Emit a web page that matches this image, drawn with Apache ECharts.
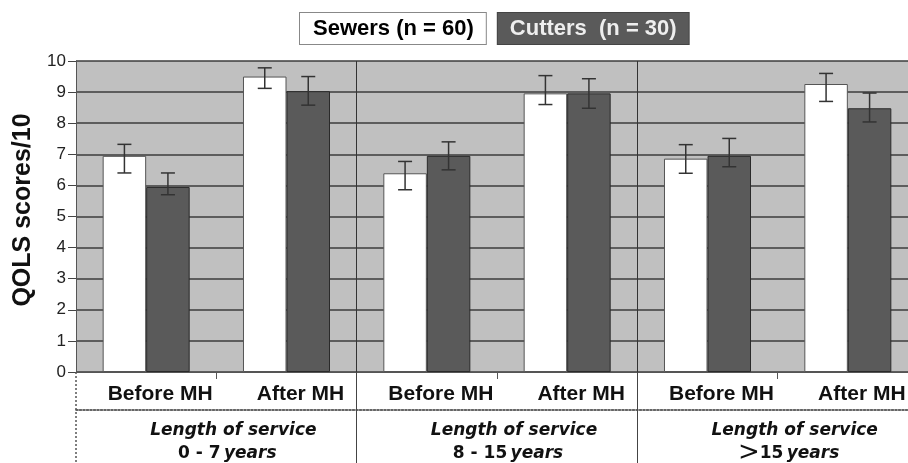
<!DOCTYPE html>
<html>
<head>
<meta charset="utf-8">
<script src="https://cdn.jsdelivr.net/npm/echarts@6/dist/echarts.min.js"></script>
<style>
html,body{margin:0;padding:0;background:#fff;}
#chart{width:908px;height:463px;}
</style>
</head>
<body>
<div id="chart"></div>
<script>
// ---- data ----
const categories = ['Before MH', 'After MH', 'Before MH', 'After MH', 'Before MH', 'After MH'];
const groups = ['0 - 7', '8 - 15', '>15'];
const seriesNames = ['Sewers (n = 60)', 'Cutters  (n = 30)'];
const sewersMean = [6.95, 9.5, 6.39, 8.96, 6.86, 9.26];
const sewersLow  = [6.40, 9.12, 5.86, 8.60, 6.39, 8.70];
const sewersHigh = [7.32, 9.78, 6.77, 9.53, 7.31, 9.60];
const cuttersMean = [5.95, 9.03, 6.95, 8.96, 6.95, 8.48];
const cuttersLow  = [5.70, 8.58, 6.50, 8.48, 6.60, 8.04];
const cuttersHigh = [6.40, 9.50, 7.40, 9.43, 7.51, 8.97];
const yTicks = [0, 10, 1];

const FONT = '"Liberation Sans", Arial, sans-serif';
const GAP = 0.38;

function errRender(sign) {
  return function (params, api) {
    const band = api.size([1, 0])[0];
    const bw = band * (1 - GAP) / 2;
    const x = api.coord([api.value(0), 0])[0] + sign * bw / 2;
    const yl = api.coord([api.value(0), api.value(1)])[1];
    const yh = api.coord([api.value(0), api.value(2)])[1];
    const cap = 7;
    const style = { stroke: '#333', lineWidth: 1.5 };
    return {
      type: 'group',
      children: [
        { type: 'line', shape: { x1: x, y1: yh, x2: x, y2: yl }, style: style },
        { type: 'line', shape: { x1: x - cap, y1: yh, x2: x + cap, y2: yh }, style: style },
        { type: 'line', shape: { x1: x - cap, y1: yl, x2: x + cap, y2: yl }, style: style }
      ]
    };
  };
}

const groupRich = {
  it: { fontFamily: '"DejaVu Sans", sans-serif', fontSize: 17, fontWeight: 'bold', fontStyle: 'italic', color: '#111', lineHeight: 23 },
  itp: { fontFamily: '"DejaVu Sans", sans-serif', fontSize: 17, fontWeight: 'bold', fontStyle: 'italic', color: '#111', lineHeight: 23, padding: [0, 12, 0, 0] },
  b: { fontFamily: '"DejaVu Sans", sans-serif', fontSize: 17, fontWeight: 'bold', color: '#111', lineHeight: 23 },
  gt: { fontFamily: '"DejaVu Sans", sans-serif', fontSize: 26, fontWeight: 'normal', color: '#111', lineHeight: 23 }
};

function groupLabel(v) {
  let l2;
  if (v.charAt(0) === '>') {
    l2 = '{gt|>}{b|' + v.slice(1) + '} {itp|years}';
  } else {
    l2 = '{b|' + v + '} {itp|years}';
  }
  return '{it|Length of service}\n' + l2;
}

const chart = echarts.init(document.getElementById('chart'), null, { renderer: 'canvas' });
chart.setOption({
  animation: false,
  textStyle: { fontFamily: FONT },
  legend: {
    left: 290, top: 7,
    itemWidth: 0, itemHeight: 14, itemGap: 6,
    selectedMode: false,
    data: [
      { name: seriesNames[0], icon: 'none',
        textStyle: { color: '#000', fontSize: 22, fontWeight: 'bold', fontFamily: FONT, lineHeight: 23,
          backgroundColor: '#fff', borderColor: '#888', borderWidth: 1, padding: [4, 12, 4, 13] } },
      { name: seriesNames[1], icon: 'none',
        textStyle: { color: '#eee', fontSize: 22, fontWeight: 'bold', fontFamily: FONT, lineHeight: 23,
          backgroundColor: '#5a5a5a', borderColor: '#444', borderWidth: 1, padding: [4, 12, 4, 12] } }
    ]
  },
  grid: {
    left: 76, top: 61, width: 842, height: 311,
    outerBoundsMode: 'none', containLabel: false,
    show: true, backgroundColor: '#c0c0c0', borderWidth: 0
  },
  xAxis: [
    {
      type: 'category', data: categories, position: 'bottom', gridIndex: 0,
      axisLine: { show: true, lineStyle: { color: '#555', width: 1 } },
      axisTick: { show: true, length: 7, interval: function (i) { return i % 2 === 1; }, lineStyle: { color: '#555' } },
      axisLabel: { interval: 0, margin: 12, fontSize: 21, fontWeight: 'bold', color: '#111', padding: [0, 0, 0, 28] },
      splitLine: { show: false }
    },
    {
      type: 'category', data: groups, position: 'bottom', gridIndex: 0, offset: 0,
      axisLine: { show: false },
      axisTick: { show: true, length: 91, interval: function (i) { return i !== 0; }, lineStyle: { color: '#444', width: 1 } },
      axisLabel: { show: false },
      splitLine: { show: true, interval: 0, lineStyle: { color: '#333', width: 1 } }
    },
    {
      type: 'category', data: groups, position: 'bottom', gridIndex: 0, offset: 0,
      axisLine: { show: false },
      axisTick: { show: true, length: 91, interval: function (i) { return i === 0; }, lineStyle: { color: '#555', width: 1.5, type: [2, 2] } },
      axisLabel: { show: false },
      splitLine: { show: false }
    },
    {
      type: 'category', data: groups, position: 'bottom', gridIndex: 0, offset: 38,
      axisLine: { show: true, lineStyle: { color: '#333', width: 1.5, type: [2, 1.5] } },
      axisTick: { show: false },
      axisLabel: { interval: 0, margin: 9, formatter: groupLabel, rich: groupRich, padding: [0, 0, 0, 34] },
      splitLine: { show: false }
    }
  ],
  yAxis: {
    type: 'value', min: yTicks[0], max: yTicks[1], interval: yTicks[2],
    name: 'QOLS scores/10', nameLocation: 'middle', nameGap: 40,
    nameTextStyle: { fontSize: 25, fontWeight: 'bold', color: '#111', fontFamily: FONT, padding: [0, 0, 0, 13] },
    axisLine: { show: true, lineStyle: { color: '#555', width: 1 } },
    axisTick: { show: true, length: 8, lineStyle: { color: '#444' } },
    axisLabel: { fontSize: 17, color: '#222', margin: 10 },
    splitLine: { show: true, lineStyle: { color: '#3c3c3c', width: 1.5 } }
  },
  series: [
    {
      name: seriesNames[0], type: 'bar', data: sewersMean, xAxisIndex: 0,
      barGap: '0%', barCategoryGap: (GAP * 100) + '%',
      itemStyle: { color: '#ffffff', borderColor: '#555', borderWidth: 1 }
    },
    {
      name: seriesNames[1], type: 'bar', data: cuttersMean, xAxisIndex: 0,
      barGap: '0%', barCategoryGap: (GAP * 100) + '%',
      itemStyle: { color: '#5a5a5a', borderColor: '#2a2a2a', borderWidth: 1 }
    },
    {
      type: 'custom', xAxisIndex: 0, z: 5,
      renderItem: errRender(-1),
      encode: { x: 0, y: [1, 2] },
      data: categories.map(function (c, i) { return [i, sewersLow[i], sewersHigh[i]]; })
    },
    {
      type: 'custom', xAxisIndex: 0, z: 5,
      renderItem: errRender(1),
      encode: { x: 0, y: [1, 2] },
      data: categories.map(function (c, i) { return [i, cuttersLow[i], cuttersHigh[i]]; })
    }
  ]
});
</script>
</body>
</html>
